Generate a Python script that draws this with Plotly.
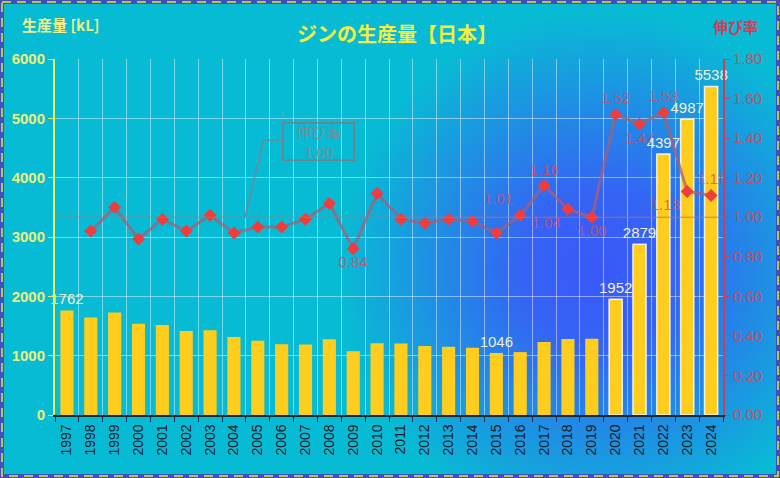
import base64
import plotly.graph_objects as go

# ジンの生産量【日本】 values
years = [str(y) for y in range(1997, 2025)]
production = [1762, 1642, 1729, 1539, 1517, 1414, 1430, 1315, 1252, 1192,
              1190, 1275, 1075, 1210, 1205, 1165, 1150, 1132, 1046, 1060,
              1230, 1280, 1284, 1952, 2879, 4397, 4987, 5538]
growth = [None, 0.93, 1.05, 0.89, 0.99, 0.93, 1.01, 0.92, 0.95, 0.95,
          0.99, 1.07, 0.84, 1.12, 0.99, 0.97, 0.99, 0.98, 0.92, 1.01,
          1.16, 1.04, 1.00, 1.52, 1.47, 1.53, 1.13, 1.11]
bar_labels = {"1997", "2015", "2020", "2021", "2022", "2023", "2024"}
rate_labels = {"2009": "bottom center", "2016": "top left", "2017": "top center",
               "2018": "bottom left", "2019": "bottom center", "2020": "top center",
               "2021": "bottom center", "2022": "top center", "2023": "bottom left",
               "2024": "top center"}

W, H = 780, 478
L, R, T, B = 55, 57, 59, 63
pw, ph = W - L - R, H - T - B

# background: radial gradient + dashed frame, as an inline svg
svg = f"""<svg xmlns='http://www.w3.org/2000/svg' width='{W}' height='{H}'>
<defs><radialGradient id='g' cx='600' cy='270' r='260' gradientUnits='userSpaceOnUse'>
<stop offset='0' stop-color='#3a58f8'/><stop offset='0.3' stop-color='#3564f4'/>
<stop offset='1' stop-color='#08bbd4'/></radialGradient></defs>
<rect width='{W}' height='{H}' fill='#08bbd4'/>
<rect width='{W}' height='{H}' fill='url(#g)'/>
<rect x='2' y='2' width='{W-4}' height='{H-4}' fill='none' stroke='#3f51b5' stroke-width='4'/>
<rect x='2' y='2' width='{W-4}' height='{H-4}' fill='none' stroke='#f0e040' stroke-width='1.5' stroke-dasharray='9,6'/>
</svg>"""
bg = "data:image/svg+xml;base64," + base64.b64encode(svg.encode()).decode()

font = "Liberation Sans, Noto Sans CJK JP, Arial"
jp = "Noto Sans CJK JP, Liberation Sans"

fig = go.Figure()

fig.add_trace(go.Bar(
    x=years, y=production, name="生産量",
    text=[str(v) if y in bar_labels else "" for y, v in zip(years, production)],
    textposition="outside", cliponaxis=False, constraintext="none",
    textfont=dict(color="#eef0d0", size=15, family=font),
    marker=dict(color="#ffcd1e",
                line=dict(color=["rgba(255,255,255,0.85)" if int(y) >= 2020 else "rgba(0,0,0,0)" for y in years],
                          width=1.5)),
))

fig.add_trace(go.Scatter(
    x=years, y=growth, yaxis="y2", name="伸び率", mode="lines+markers+text",
    line=dict(color="rgba(165,95,120,0.75)", width=3),
    marker=dict(symbol="diamond", size=10, color="#f03c3c"),
    text=[f"{g:.2f}" if y in rate_labels else "" for y, g in zip(years, growth)],
    textposition=[rate_labels.get(y, "top center") for y in years],
    textfont=dict(color="rgba(215,75,100,0.8)", size=15, family=font),
    cliponaxis=False,
))

# 1.00 reference line
fig.add_shape(type="line", xref="paper", yref="y2", x0=0, x1=1, y0=1.0, y1=1.0,
              line=dict(color="rgba(200,110,100,0.8)", width=1))
# callout connector
fig.add_shape(type="path", xref="x", yref="y2",
              path="M 7.46 1.0 L 8.24 1.39 L 9.06 1.39",
              line=dict(color="rgba(125,130,140,0.9)", width=1.5))

fig.add_annotation(x=10.56, y=1.385, xref="x", yref="y2", showarrow=False,
                   text="伸び率<br>1.00", width=68, height=34, borderpad=1,
                   bordercolor="rgba(120,125,135,0.9)", borderwidth=1.5,
                   font=dict(color="#7f8a95", size=15, family=jp))

fig.add_annotation(x=0.512, y=1.073, xref="paper", yref="paper", showarrow=False,
                   yanchor="middle", text="<b>ジンの生産量【日本】</b>",
                   font=dict(color="#f5ee3c", size=20, family=jp))
fig.add_annotation(x=-0.052, y=1.098, xref="paper", yref="paper", showarrow=False,
                   xanchor="left", yanchor="middle", text="<b>生産量 [kL]</b>",
                   font=dict(color="#eef08a", size=15, family=jp))
fig.add_annotation(x=1.018, y=1.09, xref="paper", yref="paper", showarrow=False,
                   xanchor="center", yanchor="middle", text="<b>伸び率</b>",
                   font=dict(color="#c8405a", size=15, family=jp))

fig.update_layout(
    width=W, height=H,
    margin=dict(l=L, r=R, t=T, b=B),
    paper_bgcolor="#08bbd4", plot_bgcolor="rgba(0,0,0,0)",
    showlegend=False, bargap=0.45,
    images=[dict(source=bg, xref="paper", yref="paper",
                 x=-L / pw, y=1 + T / ph, sizex=W / pw, sizey=H / ph,
                 xanchor="left", yanchor="top", sizing="stretch", layer="below")],
    xaxis=dict(type="category", range=[-0.5, len(years) - 0.5], tickangle=-90,
               tickson="boundaries", ticks="outside", ticklen=5, tickcolor="#1a2a3a",
               ticklabelstandoff=2,
               showline=True, linecolor="#1a2a3a", linewidth=1.5,
               showgrid=True, gridcolor="rgba(255,255,255,0.45)", gridwidth=1,
               tickfont=dict(color="#0e1e30", size=14, family=font)),
    yaxis=dict(range=[0, 6000], dtick=1000, showline=True, linecolor="#e8f060",
               linewidth=2, ticks="outside", ticklen=5, tickcolor="#e8f060",
               showgrid=True, gridcolor="rgba(255,255,255,0.45)", zeroline=False,
               tickfont=dict(color="#eef07a", size=15, family="Liberation Sans"),
               tickprefix="<b>", ticksuffix="</b>"),
    yaxis2=dict(range=[0, 1.8], dtick=0.2, tickformat=".2f", overlaying="y",
                side="right", showline=True, linecolor="#c8405a", linewidth=2,
                ticks="outside", ticklen=5, tickcolor="#c8405a", showgrid=False,
                zeroline=False,
                tickfont=dict(color="#c0506a", size=15, family=font)),
)

fig.write_html("out.html", config={"displayModeBar": False},
               post_script="document.body.style.margin='0';")
